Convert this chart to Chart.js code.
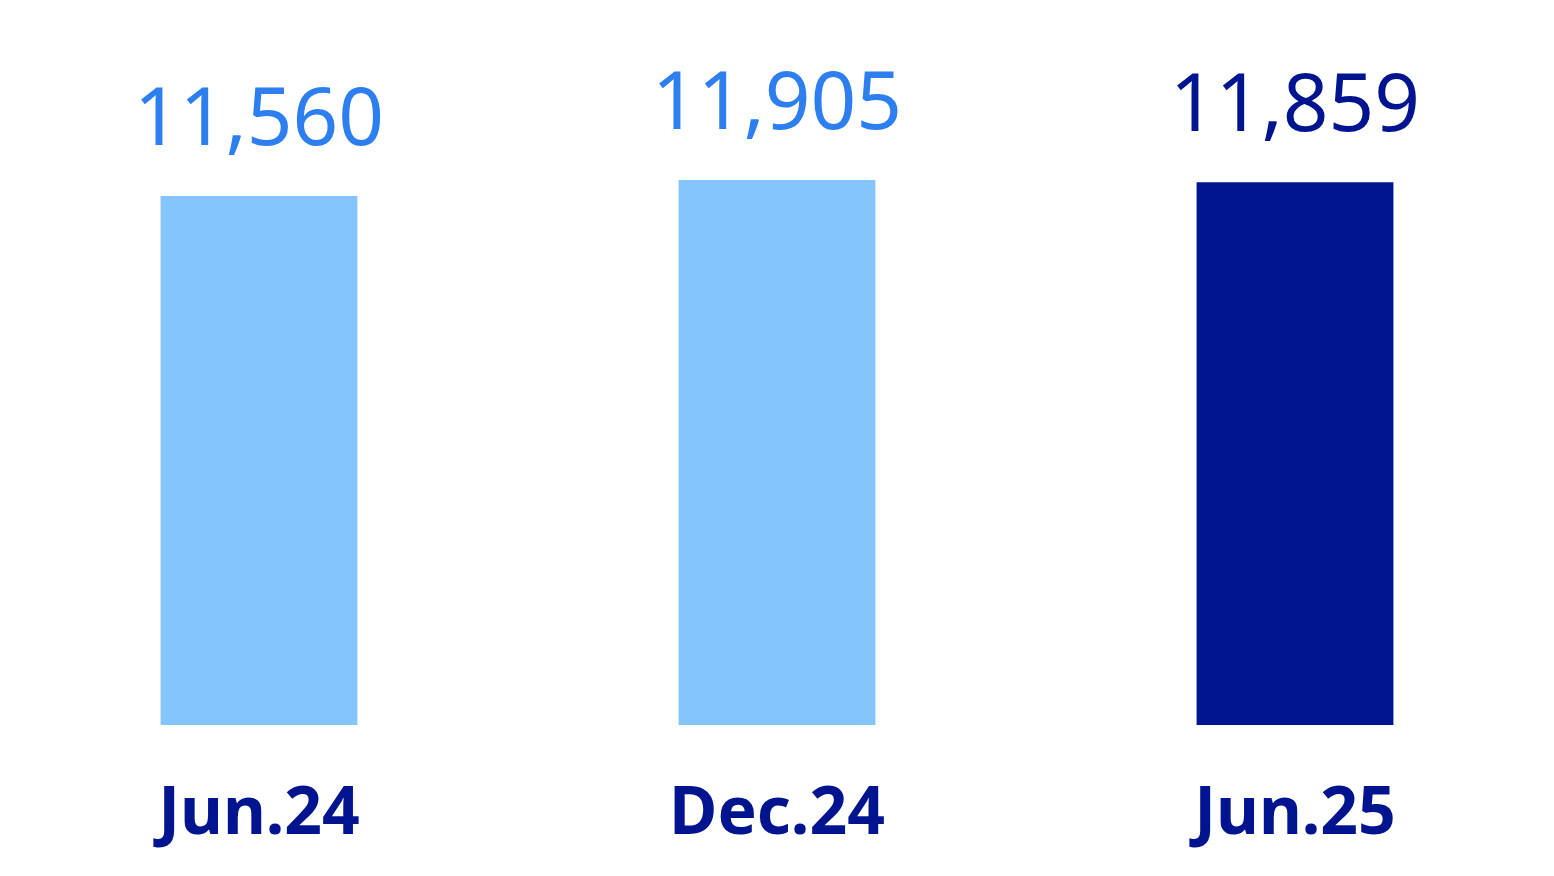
<!DOCTYPE html>
<html>
<head>
<meta charset="utf-8">
<script src="https://cdn.jsdelivr.net/npm/chart.js@4"></script>
<style>
  html, body { margin: 0; padding: 0; background: #fff; }
  #wrap { width: 1554px; height: 876px; }
</style>
</head>
<body>
<div id="wrap"><canvas id="myChart"></canvas></div>
<script>
const categories = ['Jun.24', 'Dec.24', 'Jun.25'];
const values = [11560, 11905, 11859];
const barColors = ['#85c5fd', '#85c5fd', '#00148f'];
const labelColors = ['#2d7ff0', '#2d7ff0', '#00148f'];

const valueLabels = {
    id: 'valueLabels',
    afterDatasetsDraw(chart) {
        const ctx = chart.ctx;
        const meta = chart.getDatasetMeta(0);
        ctx.save();
        ctx.font = '400 80px "Noto Sans"';
        ctx.textAlign = 'center';
        ctx.textBaseline = 'alphabetic';
        meta.data.forEach((bar, i) => {
            ctx.fillStyle = labelColors[i];
            ctx.fillText(values[i].toLocaleString('en-US'), bar.x, bar.y - 51);
        });
        ctx.restore();
    }
};

const ctx = document.getElementById('myChart').getContext('2d');
new Chart(ctx, {
    type: 'bar',
    data: {
        labels: categories,
        datasets: [{
            data: values,
            backgroundColor: barColors,
            barPercentage: 0.38,
            categoryPercentage: 1
        }]
    },
    options: {
        responsive: true,
        maintainAspectRatio: false,
        animation: false,
        layout: { padding: 0 },
        plugins: {
            legend: { display: false },
            tooltip: { enabled: false }
        },
        scales: {
            x: {
                grid: { display: false, drawTicks: false },
                border: { display: false },
                afterFit(scale) { scale.height = 151; },
                ticks: {
                    padding: 51,
                    color: '#00148f',
                    font: { family: 'Noto Sans', size: 66, weight: 'bold' }
                }
            },
            y: {
                display: false,
                min: 0,
                max: 15840
            }
        }
    },
    plugins: [valueLabels]
});
</script>
</body>
</html>
